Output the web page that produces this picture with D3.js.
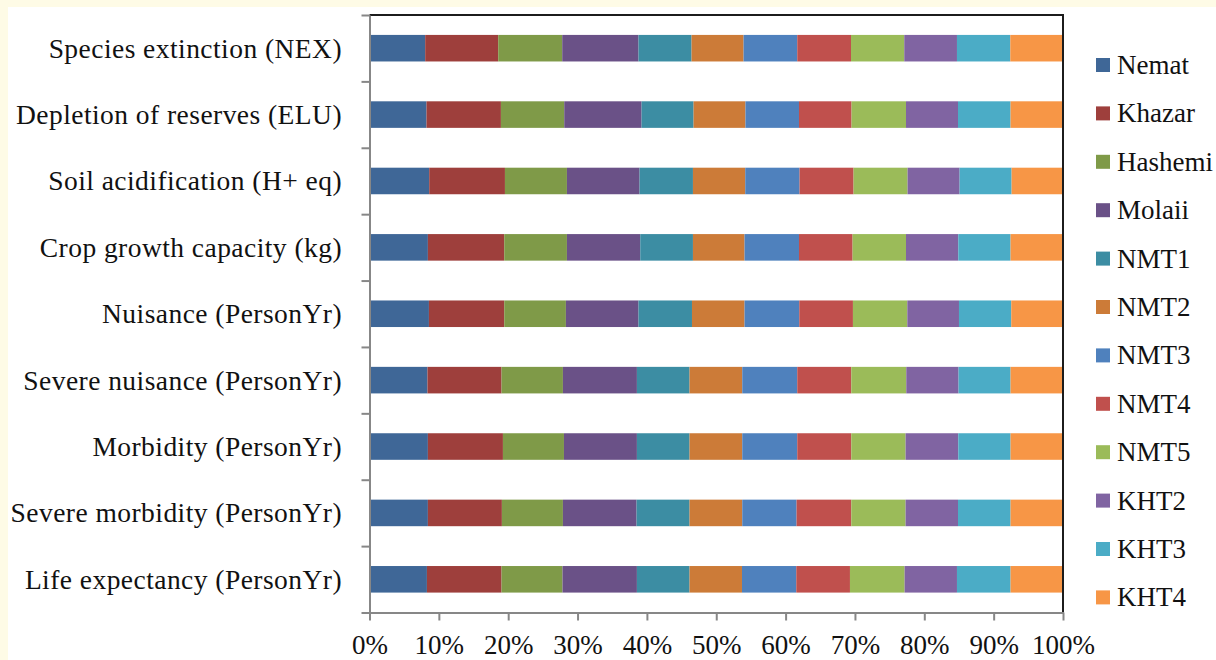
<!DOCTYPE html>
<html>
<head>
<meta charset="utf-8">
<script src="https://cdn.jsdelivr.net/npm/d3@7"></script>
<style>
  html, body { margin: 0; padding: 0; background: #fefbe6; }
  svg { display: block; }
  text { font-family: "Liberation Serif", "Times New Roman", serif; fill: #111; }
</style>
</head>
<body>
<svg id="chart" width="1216" height="660"></svg>
<script>
// ---- data (top to bottom as shown) ----
const categories = [
  "Species extinction (NEX)",
  "Depletion of reserves (ELU)",
  "Soil acidification (H+ eq)",
  "Crop growth capacity (kg)",
  "Nuisance (PersonYr)",
  "Severe nuisance (PersonYr)",
  "Morbidity (PersonYr)",
  "Severe morbidity (PersonYr)",
  "Life expectancy (PersonYr)"
];
const seriesNames = ["Nemat","Khazar","Hashemi","Molaii","NMT1","NMT2","NMT3","NMT4","NMT5","KHT2","KHT3","KHT4"];
const Nemat   = [8.03, 8.22, 8.61, 8.42, 8.57, 8.36, 8.42, 8.42, 8.28];
const Khazar  = [10.53, 10.73, 10.92, 11.01, 10.86, 10.68, 10.82, 10.67, 10.76];
const Hashemi = [9.23, 9.13, 8.94, 9.04, 8.89, 8.85, 8.80, 8.80, 8.79];
const Molaii  = [11.00, 11.15, 10.47, 10.57, 10.47, 10.67, 10.52, 10.62, 10.73];
const NMT1    = [7.65, 7.50, 7.70, 7.60, 7.71, 7.59, 7.59, 7.64, 7.59];
const NMT2    = [7.50, 7.48, 7.54, 7.44, 7.58, 7.60, 7.60, 7.60, 7.56];
const NMT3    = [7.74, 7.72, 7.83, 7.85, 7.89, 7.93, 7.93, 7.83, 7.83];
const NMT4    = [7.75, 7.58, 7.79, 7.73, 7.74, 7.79, 7.79, 7.89, 7.74];
const NMT5    = [7.68, 7.85, 7.79, 7.70, 7.84, 7.93, 7.83, 7.83, 7.88];
const KHT2    = [7.60, 7.50, 7.50, 7.54, 7.45, 7.54, 7.60, 7.56, 7.55];
const KHT3    = [7.69, 7.58, 7.50, 7.54, 7.54, 7.50, 7.54, 7.58, 7.73];
const KHT4    = [7.60, 7.56, 7.41, 7.56, 7.46, 7.56, 7.56, 7.56, 7.56];
const seriesValues = [Nemat, Khazar, Hashemi, Molaii, NMT1, NMT2, NMT3, NMT4, NMT5, KHT2, KHT3, KHT4];
const colors = ["#3f6797","#9e3f3c","#7f9a48","#6a5187","#3c8da3","#cc7b38",
                "#4f81bd","#c0504d","#9bbb59","#8064a2","#4bacc6","#f79646"];
const xTicks = [0,0.1,0.2,0.3,0.4,0.5,0.6,0.7,0.8,0.9,1];

// ---- table for d3.stack ----
const table = categories.map((c, i) => {
  const row = { category: c };
  seriesNames.forEach((s, j) => row[s] = seriesValues[j][i]);
  return row;
});
const stacked = d3.stack().keys(seriesNames).offset(d3.stackOffsetExpand)(table);

const svg = d3.select("#chart");
// white card
svg.append("rect").attr("x", 8).attr("y", 7).attr("width", 1216 - 8).attr("height", 660 - 7).attr("fill", "#ffffff");

const pL = 369.5, pR = 1063, pT = 15, pB = 612.5;
const x = d3.scaleLinear().domain([0, 1]).range([pL, pR]);
const y = d3.scaleBand().domain(categories).range([pT, pB]).paddingInner(0.6).paddingOuter(0.3);
const color = d3.scaleOrdinal().domain(seriesNames).range(colors);

// bars
svg.append("g").selectAll("g").data(stacked).join("g")
  .attr("fill", d => color(d.key))
  .selectAll("rect").data(d => d).join("rect")
  .attr("x", d => x(d[0]))
  .attr("width", d => x(d[1]) - x(d[0]))
  .attr("y", d => y(d.data.category))
  .attr("height", y.bandwidth());

// top + right border
svg.append("path")
  .attr("d", `M${pL},${pT}H${pR}V${pB}`)
  .attr("fill", "none").attr("stroke", "#1c1c1c").attr("stroke-width", 2);

// y axis (ticks at category boundaries)
const yb = d3.scaleLinear().domain([0, categories.length]).range([pT, pB]);
const yAxis = svg.append("g").attr("transform", `translate(${pL},0)`)
  .call(d3.axisLeft(yb).tickValues(d3.range(categories.length + 1)).tickFormat("").tickSize(8).tickSizeOuter(0));
yAxis.selectAll("path, line").attr("stroke", "#878787").attr("stroke-width", 2);

// category labels
svg.append("g").selectAll("text").data(categories).join("text")
  .attr("x", 342)
  .attr("y", d => y(d) + y.bandwidth() / 2)
  .attr("text-anchor", "end")
  .attr("dominant-baseline", "central")
  .style("font-size", "27.5px")
  .style("letter-spacing", "0.45px")
  .text(d => d);

// x axis
const xAxis = svg.append("g").attr("transform", `translate(0,${pB})`)
  .call(d3.axisBottom(x).tickValues(xTicks).tickFormat(d3.format(".0%")).tickSize(8).tickSizeOuter(0).tickPadding(14));
xAxis.selectAll("path, line").attr("stroke", "#878787").attr("stroke-width", 2);
xAxis.selectAll("text").style("font-size", "27px").attr("fill", "#111")
  .style("font-family", "'Liberation Serif', serif");

// legend
const legend = svg.append("g").selectAll("g").data(seriesNames).join("g")
  .attr("transform", (d, i) => `translate(1096,${65 + i * 48.4})`);
legend.append("rect").attr("x", 0).attr("y", -7).attr("width", 14).attr("height", 14).attr("fill", d => color(d));
legend.append("text").attr("x", 21).attr("y", 0).attr("dominant-baseline", "central")
  .style("font-size", "27px").text(d => d);
</script>
</body>
</html>
